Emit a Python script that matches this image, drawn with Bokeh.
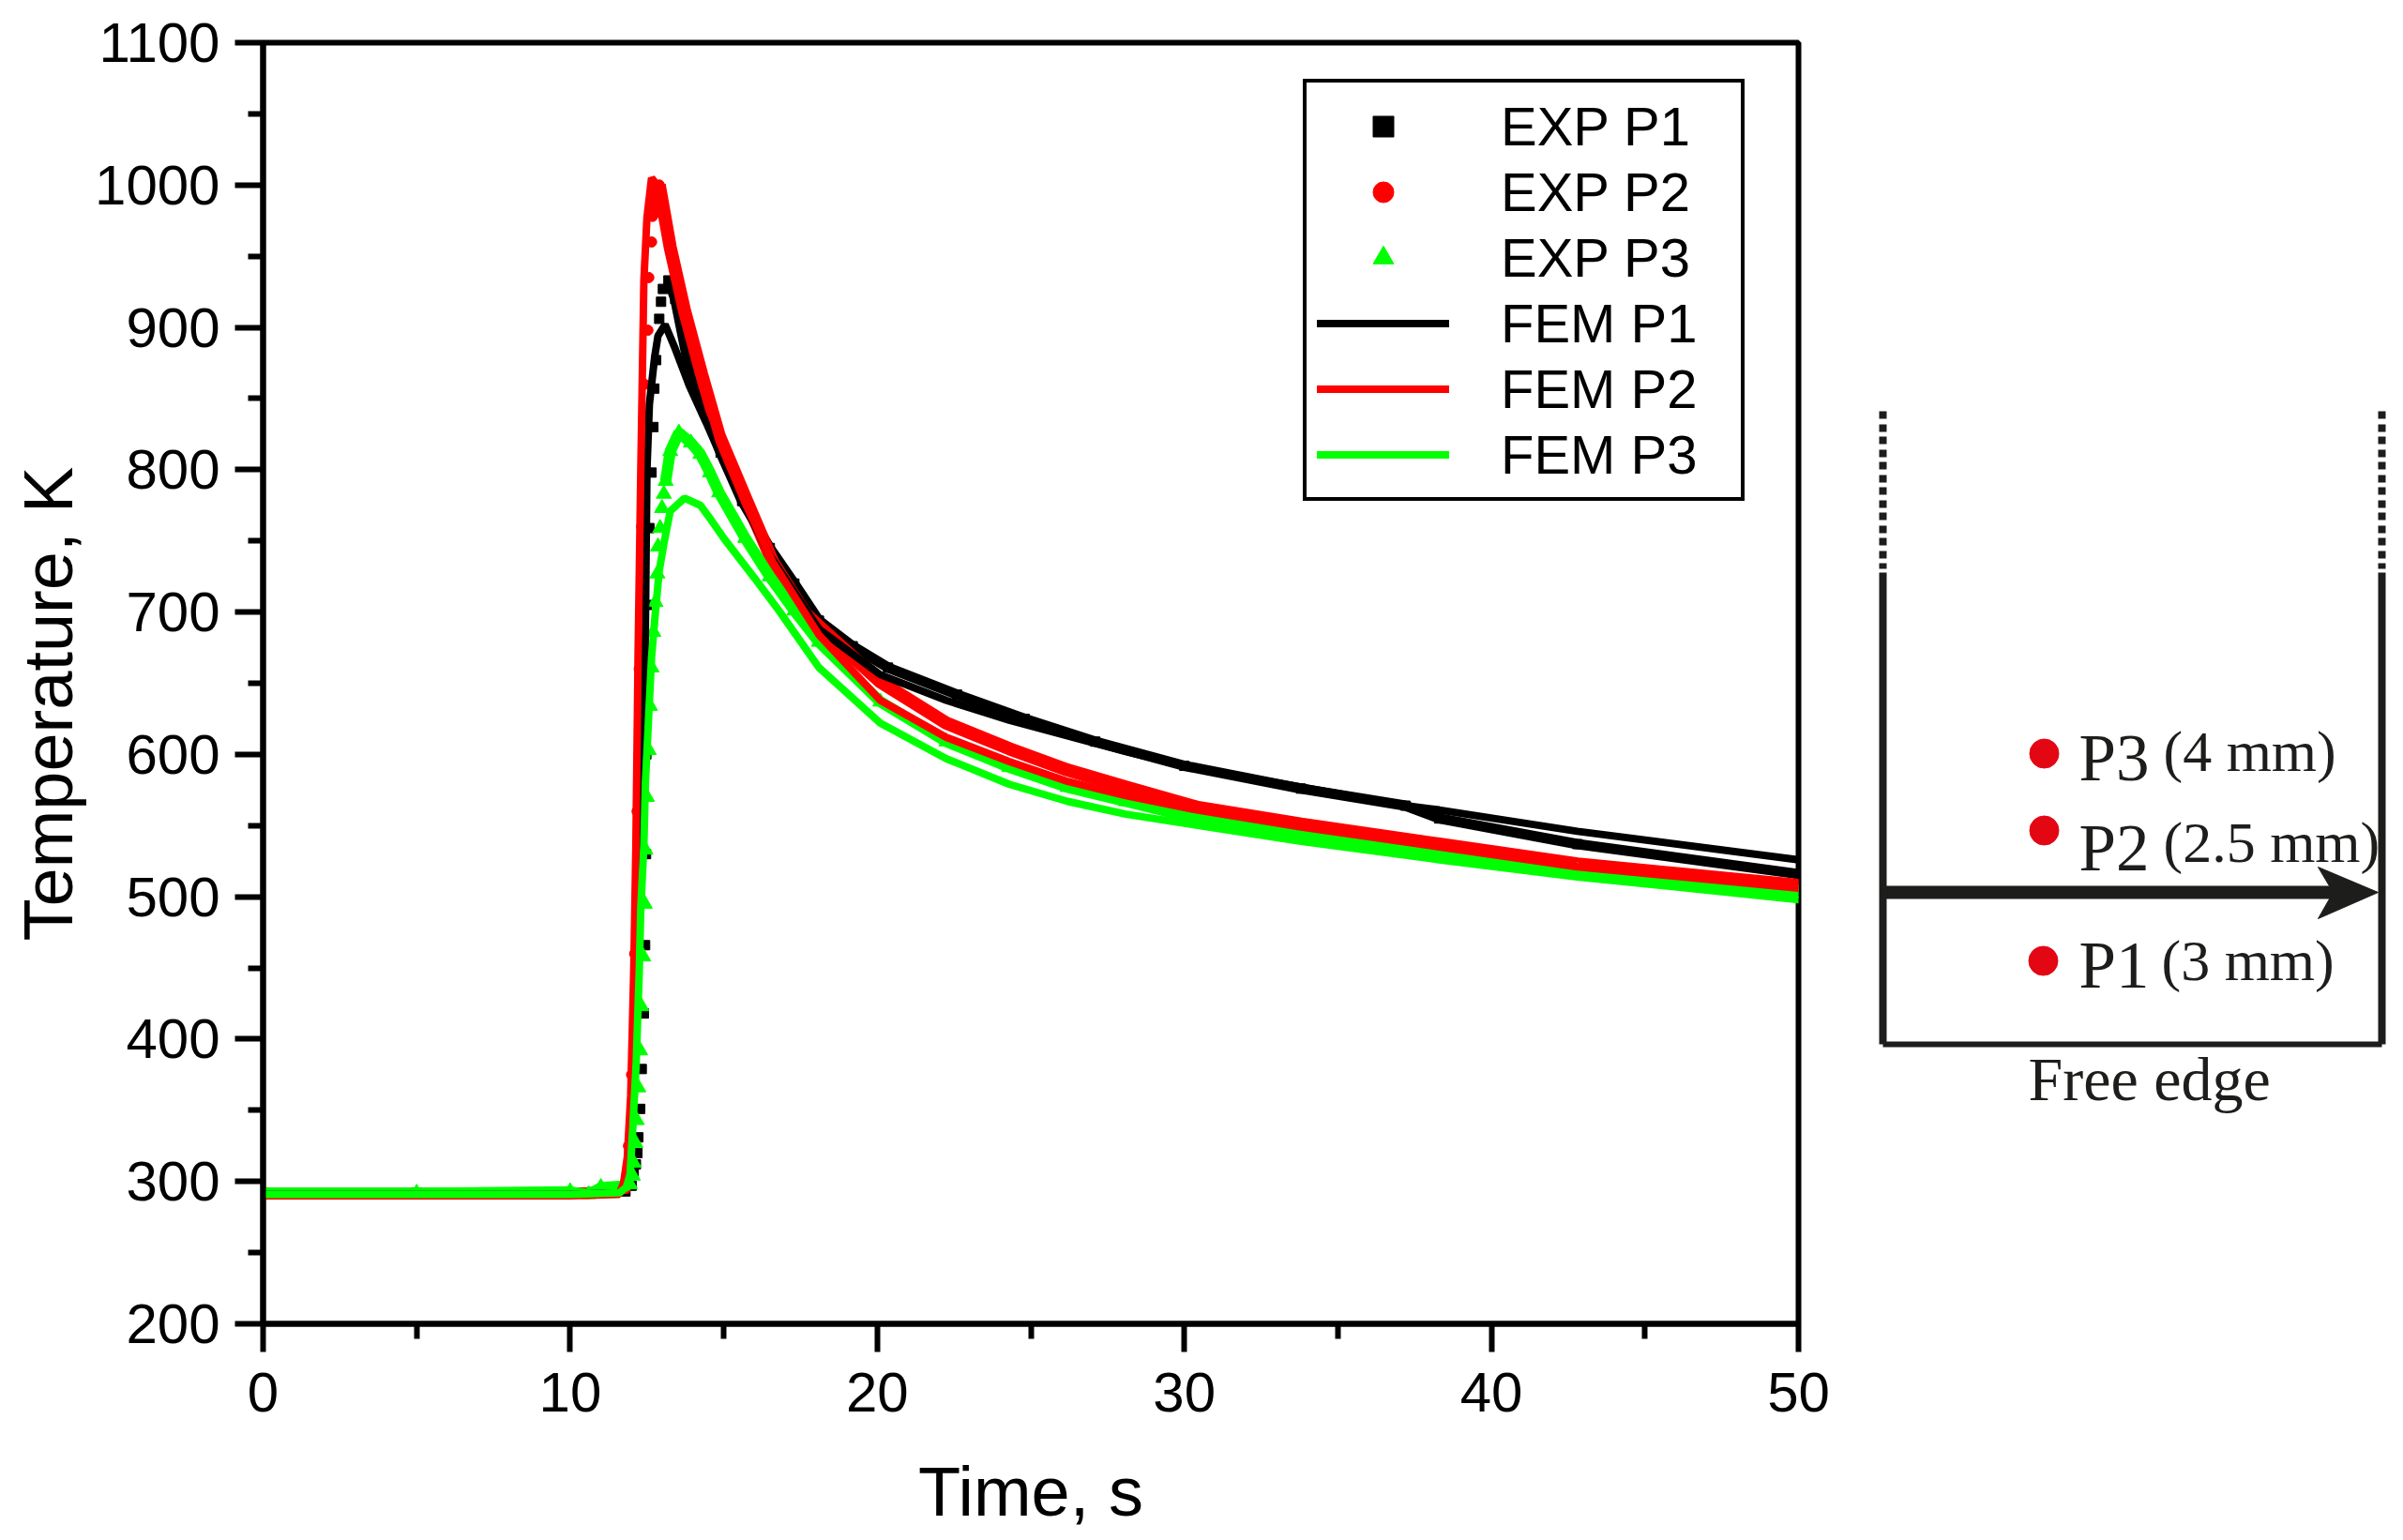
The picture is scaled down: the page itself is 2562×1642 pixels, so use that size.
from bokeh.plotting import figure
from bokeh.layouts import row
from bokeh.models import Range1d, FixedTicker, Legend, LegendItem, Title
from bokeh.core.properties import value
from bokeh.embed import file_html
from bokeh.resources import INLINE

# ---- data ----
exp_p1_t = [0, 5, 10, 11, 11.8, 12.0, 12.07, 12.14, 12.19, 12.22, 12.28, 12.33, 12.4, 12.44, 12.47, 12.48, 12.5, 12.58, 12.65, 12.71, 12.74, 12.8, 12.9, 12.96, 13.02, 13.2,
            13.42, 13.82, 14.18, 14.9, 15.6, 16.5, 17.3, 18.1, 19.2, 20.35, 22.6, 24.8, 27.1, 30, 33.8, 37.2, 38.3, 42.8, 50]
exp_p1_T = [292, 292, 292, 293, 293, 297, 305, 312, 320, 331, 351, 379, 418, 466, 530, 600, 705, 759, 798, 830, 857, 877, 906, 918, 927, 933,
            920, 877, 852, 812, 778, 745, 720, 694, 676, 661, 642, 625, 609, 592, 576, 564, 555, 537, 516]
exp_p1_line_from = 25

exp_p2_t = [0, 5, 10, 11, 11.8, 11.9, 12.0, 12.1, 12.18, 12.25, 12.33, 12.42, 12.53, 12.56, 12.65, 12.68, 12.9,
            13.26, 13.72, 14.28, 14.85, 15.71, 16.6, 17.66, 18.1, 20.1, 22.25, 24.3, 26.2, 28.1, 30.4, 33.8, 38.3, 42.8, 50]
exp_p2_T = [292, 292, 292, 293, 295, 325, 375, 460, 560, 660, 760, 860, 898, 935, 960, 978, 1000,
            956, 912, 867, 824, 780, 735, 699, 690, 651, 622, 604, 589, 577, 563, 551, 537, 523, 508]
exp_p2_line_from = 15

exp_p3_t = [0, 5, 10, 10.6, 11.0, 11.7, 11.95, 12.04, 12.07, 12.13, 12.17, 12.22, 12.28, 12.32, 12.38, 12.43, 12.45, 12.5, 12.56, 12.6, 12.65, 12.71, 12.78, 12.84, 12.86, 12.93, 12.99, 13.05, 13.11, 13.26, 13.54,
            13.93, 14.24, 14.55, 14.85, 15.7, 16.5, 17.3, 18.1, 20.1, 22.25, 24.3, 26.2, 28.1, 30.4, 33.8, 38.3, 42.8, 50]
exp_p3_T = [292, 292, 293, 291, 296, 297, 298, 304, 313, 327, 343, 366, 392, 423, 458, 495, 533, 570, 603, 634, 661, 686, 707, 727, 746, 759, 773, 783, 792, 813, 826,
            819, 811, 798, 784, 752, 725, 701, 679, 637, 609, 591, 577, 567, 555, 543, 531, 518, 502]
exp_p3_line_from = 28

fem_p1_t = [0, 10, 11.6, 11.8, 11.9, 12.01, 12.14, 12.25, 12.32, 12.44, 12.5, 12.58, 12.75, 12.86, 13.09, 13.42, 13.88, 14.43, 14.94, 15.56, 16.5, 18.1, 20.1, 22.25, 24.3, 26.2, 28.1, 30.4, 33.8, 37.2, 38.3, 42.8, 50]
fem_p1_T = [291, 291, 292, 299, 317, 360, 448, 536, 580, 668, 800, 846, 879, 894, 902, 885, 859, 833, 808, 780, 740, 688, 656, 638, 624, 613, 602, 590, 577, 564, 561, 546, 526]

fem_p2_t = [0, 10, 11.6, 11.74, 11.86, 11.97, 12.07, 12.14, 12.21, 12.3, 12.4, 12.5, 12.65, 12.9, 13.26, 13.72, 14.28, 14.85, 15.71, 16.6, 18.1, 20.1, 22.25, 24.3, 26.2, 28.1, 30.4, 33.8, 38.3, 42.8, 50]
fem_p2_T = [290, 290, 291, 299, 317, 360, 448, 536, 668, 800, 933, 977, 1005, 998, 952, 908, 863, 820, 776, 735, 684, 638, 612, 595, 581, 571, 561, 549, 535, 521, 506]

fem_p3_t = [0, 10, 11.6, 11.83, 11.95, 12.04, 12.15, 12.25, 12.3, 12.4, 12.45, 12.55, 12.65, 12.78, 12.9, 13.06, 13.26, 13.72, 14.24, 14.58, 15, 16, 16.8, 18.1, 20.1, 22.25, 24.3, 26.2, 28.1, 33.8, 38.3, 42.8, 50]
fem_p3_T = [291, 291, 292, 296, 305, 338, 383, 448, 492, 536, 580, 624, 668, 701, 729, 749, 771, 780, 775, 765, 752, 724, 701, 661, 622, 597, 579, 567, 558, 539, 526, 514, 498]

x_ticks = [0, 10, 20, 30, 40, 50]
x_minor = [5, 15, 25, 35, 45]
y_ticks = [200, 300, 400, 500, 600, 700, 800, 900, 1000, 1100]
y_minor = [250, 350, 450, 550, 650, 750, 850, 950, 1050]

BLACK, RED, GREEN = "#000000", "#ff0000", "#00ff00"
SANS = "Liberation Sans"
SERIF = "Liberation Serif"
INK = "#1d1d1b"
DOT = "#e30613"

p = figure(width=1970, height=1642, x_range=Range1d(0, 50), y_range=Range1d(200, 1100),
           toolbar_location=None, output_backend="svg",
           min_border_left=280, min_border_right=53, min_border_top=45, min_border_bottom=231,
           x_axis_label="Time, s")
p.grid.visible = False
p.outline_line_color = "#000000"
p.outline_line_width = 6
p.background_fill_color = "#ffffff"

p.xaxis.ticker = FixedTicker(ticks=x_ticks, minor_ticks=x_minor)
p.yaxis.ticker = FixedTicker(ticks=y_ticks, minor_ticks=y_minor)
for ax in (p.xaxis[0], p.yaxis[0]):
    ax.axis_line_color = "#000000"
    ax.axis_line_width = 6
    ax.major_tick_line_color = "#000000"
    ax.minor_tick_line_color = "#000000"
    ax.major_tick_line_width = 6
    ax.minor_tick_line_width = 6
    ax.major_tick_in = 0
    ax.minor_tick_in = 0
    ax.major_tick_out = 30
    ax.minor_tick_out = 16
    ax.major_label_text_font = SANS
    ax.major_label_text_font_size = "60px"
    ax.major_label_text_color = "#000000"
    ax.axis_label_text_font = SANS
    ax.axis_label_text_font_style = "normal"
    ax.axis_label_text_color = "#000000"
p.xaxis[0].major_label_standoff = 22
p.yaxis[0].major_label_standoff = 16
p.xaxis[0].axis_label_text_font_size = "74px"
p.xaxis[0].axis_label_standoff = 41

# The reference's label sits below the middle of the frame, which an axis label cannot do.
p.add_layout(Title(text="Temperature, K", align="left", offset=408, standoff=11,
                   text_font=SANS, text_font_size="74px", text_font_style="normal",
                   text_color="#000000"), "left")

s1 = p.scatter(exp_p1_t, exp_p1_T, marker="square", size=10, color=BLACK)
p.line(exp_p1_t[:5], exp_p1_T[:5], line_color=BLACK, line_width=10)
p.line(exp_p1_t[exp_p1_line_from:], exp_p1_T[exp_p1_line_from:], line_color=BLACK, line_width=11)
s2 = p.scatter(exp_p2_t, exp_p2_T, marker="circle", size=11, color=RED)
p.line(exp_p2_t[:5], exp_p2_T[:5], line_color=RED, line_width=10)
p.line(exp_p2_t[exp_p2_line_from:], exp_p2_T[exp_p2_line_from:], line_color=RED, line_width=14)
s3 = p.scatter(exp_p3_t, exp_p3_T, marker="triangle", size=16, color=GREEN)
p.line(exp_p3_t[:6], exp_p3_T[:6], line_color=GREEN, line_width=11)
p.line(exp_p3_t[exp_p3_line_from:], exp_p3_T[exp_p3_line_from:], line_color=GREEN, line_width=12)

l1 = p.line(fem_p1_t, fem_p1_T, line_color=BLACK, line_width=8, line_cap="round")
l2 = p.line(fem_p2_t, fem_p2_T, line_color=RED, line_width=8, line_cap="round")
l3 = p.line(fem_p3_t, fem_p3_T, line_color=GREEN, line_width=8, line_cap="round")

legend = Legend(items=[LegendItem(label="EXP P1", renderers=[s1]),
                       LegendItem(label="EXP P2", renderers=[s2]),
                       LegendItem(label="EXP P3", renderers=[s3]),
                       LegendItem(label="FEM P1", renderers=[l1]),
                       LegendItem(label="FEM P2", renderers=[l2]),
                       LegendItem(label="FEM P3", renderers=[l3])],
                location=(1109, 877), margin=0, padding=11, spacing=0,
                glyph_width=141, glyph_height=55, label_height=70, label_width=245,
                label_standoff=55, label_text_font=SANS, label_text_font_size="58px",
                label_text_color="#000000", label_text_baseline="middle",
                border_line_color="#000000", border_line_alpha=1, border_line_width=4,
                background_fill_alpha=1)
p.add_layout(legend, "center")

# ---- schematic of the plate ----
wall_x = [2007, 2539]
dash_top, dash_bottom, wall_top, wall_bottom = 438, 606, 610, 1113
arrow_y = 951
dot_labels = ["P3", "P2", "P1"]
dot_x = [2179, 2179, 2178]
dot_y = [803, 885, 1024]
name_baseline = [807, 903, 1028]
depth_labels = ["(4 mm)", "(2.5 mm)", "(3 mm)"]
depth_x = [2306, 2306, 2304]
depth_baseline = [800, 897, 1023]

# The row aligns this frame with the chart's frame, so its range spans the same rows of pixels.
q = figure(width=590, height=1642, x_range=Range1d(1970, 2560), y_range=Range1d(1411, 45),
           toolbar_location=None, output_backend="svg",
           min_border_left=0, min_border_right=0, min_border_top=45, min_border_bottom=231)
q.axis.visible = False
q.grid.visible = False
q.outline_line_color = None

for wx in wall_x:
    q.line([wx, wx], [dash_top, dash_bottom], line_color=INK, line_width=8, line_dash="8 6 8 5")
    q.line([wx, wx], [wall_top, wall_bottom], line_color=INK, line_width=8)
q.line(wall_x, [wall_bottom, wall_bottom], line_color=INK, line_width=6)
q.line([wall_x[0], 2490], [arrow_y, arrow_y], line_color=INK, line_width=14)
q.patch([2535, 2471, 2487, 2471], [951, 924, 951, 979], color=INK)
q.scatter(dot_x, dot_y, marker="circle", size=31, color=DOT)
q.text([2216] * 3, name_baseline, text=dot_labels, text_font=value(SERIF), text_font_size="71px",
       text_color=INK, text_baseline="alphabetic", text_align="left")
q.text(depth_x, depth_baseline, text=depth_labels, text_font=value(SERIF), text_font_size="62px",
       text_color=INK, text_baseline="alphabetic", text_align="left")
q.text([2162], [1150], text=["Free edge"], text_font=value(SERIF), text_font_size="66px",
       text_color=INK, text_baseline="alphabetic", text_align="left")

page = row(p, q, spacing=0)
open("out.html", "w").write(file_html(page, INLINE))
